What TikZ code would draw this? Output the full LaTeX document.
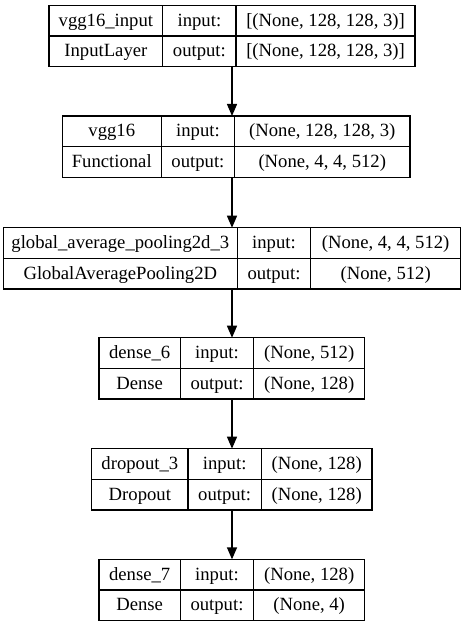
\documentclass[tikz,border=0pt]{standalone}
\usepackage{fontspec}
\setmainfont{Liberation Serif}
\usetikzlibrary{positioning}
\usetikzlibrary{arrows.meta}

\begin{document}
\begin{tikzpicture}[
		line width=1pt,
		every node/.style={
			rectangle,
			draw,
			outer sep=0pt,
			inner sep=0pt,
			minimum height=23pt,
			text height=9.3pt,
			text depth=1pt,
			font=\fontsize{14pt}{16pt}\selectfont
		},
		io/.style={
			minimum width=55pt
		},
		flow/.style={
			-{Triangle[length=9pt,width=7.5pt]}
		}]

		\useasboundingbox (0,0) rectangle (348pt,-470.25pt);

		\coordinate (axis) at (174pt,0);

		%vgg16_input
		\node[anchor=north west, minimum width=85.3pt] at (36.75pt,-4pt) (a1) {vgg16\_input};
		\node[right=0pt of a1, io] (a2) {input:};
		\node[right=0pt of a2, minimum width=134.25pt] (a3) {[(None, 128, 128, 3)]};
		\node[below=0pt of a1, minimum width=85.3pt] (a4) {InputLayer};
		\node[below=0pt of a2, io] (a5) {output:};
		\node[below=0pt of a3, minimum width=134.25pt] (a6) {[(None, 128, 128, 3)]};

		%vgg16
		\node[anchor=north west, minimum width=74.25pt] at (46.7pt,-87pt) (b1) {vgg16};
		\node[right=0pt of b1, io] (b2) {input:};
		\node[right=0pt of b2, minimum width=131.5pt] (b3) {(None, 128, 128, 3)};
		\node[below=0pt of b1, minimum width=74.25pt] (b4) {Functional};
		\node[below=0pt of b2, io] (b5) {output:};
		\node[below=0pt of b3, minimum width=131.5pt] (b6) {(None, 4, 4, 512)};

		%pooling
		\node[anchor=north west, minimum width=175.5pt] at (2.5pt,-170.8pt) (c1) {global\_average\_pooling2d\_3};
		\node[right=0pt of c1, io] (c2) {input:};
		\node[right=0pt of c2, minimum width=112.5pt] (c3) {(None, 4, 4, 512)};
		\node[below=0pt of c1, minimum width=175.5pt] (c4) {GlobalAveragePooling2D};
		\node[below=0pt of c2, io] (c5) {output:};
		\node[below=0pt of c3, minimum width=112.5pt] (c6) {(None, 512)};

		%dense_6
		\node[anchor=north west, minimum width=61pt] at (74.25pt,-253.3pt) (d1) {dense\_6};
		\node[right=0pt of d1, io] (d2) {input:};
		\node[right=0pt of d2, minimum width=83.25pt] (d3) {(None, 512)};
		\node[below=0pt of d1, minimum width=61pt] (d4) {Dense};
		\node[below=0pt of d2, io] (d5) {output:};
		\node[below=0pt of d3, minimum width=83.25pt] (d6) {(None, 128)};

		%dropout_3
		\node[anchor=north west, minimum width=72.25pt] at (68.75pt,-336.5pt) (e1) {dropout\_3};
		\node[right=0pt of e1, io] (e2) {input:};
		\node[right=0pt of e2, minimum width=83pt] (e3) {(None, 128)};
		\node[below=0pt of e1, minimum width=72.25pt] (e4) {Dropout};
		\node[below=0pt of e2, io] (e5) {output:};
		\node[below=0pt of e3, minimum width=83pt] (e6) {(None, 128)};

		%dense_7
		\node[anchor=north west, minimum width=61pt] at (74.25pt,-419.5pt) (f1) {dense\_7};
		\node[right=0pt of f1, io] (f2) {input:};
		\node[right=0pt of f2, minimum width=83.25pt] (f3) {(None, 128)};
		\node[below=0pt of f1, minimum width=61pt] (f4) {Dense};
		\node[below=0pt of f2, io] (f5) {output:};
		\node[below=0pt of f3, minimum width=83.25pt] (f6) {(None, 4)};

		%arrows
		\draw[flow] (a5.south -| axis) -- (b2.north -| axis);
		\draw[flow] (b5.south -| axis) -- (c2.north -| axis);
		\draw[flow] (c4.south -| axis) -- (d2.north -| axis);
		\draw[flow] (d5.south -| axis) -- (e2.north -| axis);
		\draw[flow] (e5.south -| axis) -- (f2.north -| axis);

	\end{tikzpicture}
\end{document}
